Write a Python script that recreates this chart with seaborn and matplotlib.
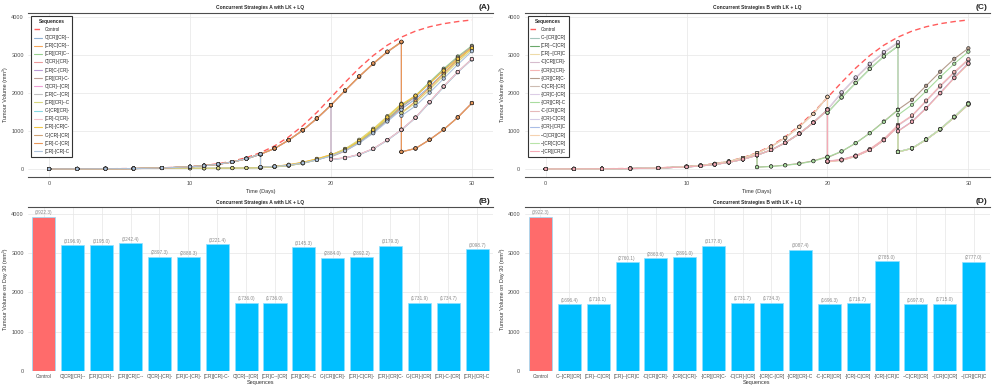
import pandas as pd
import matplotlib
matplotlib.use('Agg')
import matplotlib.pyplot as plt
import seaborn as sns

sns.set_theme(style='whitegrid')
plt.rcParams['font.family'] = ['Liberation Sans', 'DejaVu Sans']

# sampling days; a repeated day holds the value just after a dose
days = [0, 2, 4, 6, 8, 10, 11, 12, 13, 14, 15, 15, 16, 17, 18, 19, 20, 20,
        21, 22, 23, 24, 25, 25, 26, 27, 28, 29, 30]

control = [1, 3, 6, 13, 29, 64, 95, 139, 205, 299, 429, 429, 608, 844, 1140, 1490,
           1880, 1880, 2278, 2655, 2986, 3258, 3470, 3470, 3629, 3743, 3824, 3880, 3922.3]

# ---- Strategies A ----
seqs_a = ['C[CR][CR]--', '[CR]C[CR]--', '[CR][CR]C--', 'C[CR]-[CR]-', '[CR]C-[CR]-',
          '[CR][CR]-C-', 'C[CR]--[CR]', '[CR]C--[CR]', '[CR][CR]--C', 'C-[CR][CR]-',
          '[CR]-C[CR]-', '[CR]-[CR]C-', 'C-[CR]-[CR]', '[CR]-C-[CR]', '[CR]-[CR]-C']
colors_a = ['#8fb1d4', '#f5a65b', '#98d08f', '#ec9a9a', '#b99ad6', '#bf9e96', '#ee9fd6',
            '#c2c2c2', '#d8d77f', '#85d8e2', '#f6c3cc', '#f2c744', '#cfa276', '#e9975a',
            '#adc3dd']
final_a = [3196.9, 3195.0, 3242.4, 2897.3, 2888.3, 3221.4, 1736.0, 1736.0, 3145.3,
           2884.0, 2892.2, 3179.3, 1731.9, 1734.7, 3098.7]

a_up = [1, 3, 6, 12, 27, 58, 86, 125, 185, 270, 390]
a_low = [1, 3, 6, 12, 24, 20, 19, 21, 24, 28, 34]
a_up20 = [390, 540, 760, 1020, 1330, 1680]

a1 = a_up + [50, 68, 105, 165, 250, 355, 355, 505, 710, 970, 1270, 1580, 1580, 1840, 2170, 2530, 2880, 3196.9]
a2 = a_up + [52, 70, 110, 172, 262, 372, 372, 525, 735, 1000, 1310, 1610, 1480, 1780, 2140, 2510, 2870, 3195.0]
a3 = a_low + [34, 55, 90, 150, 240, 350, 350, 510, 730, 1000, 1320, 1660, 1660, 1930, 2290, 2640, 2960, 3242.4]
a4 = a_up + a_up20 + [255, 295, 385, 535, 765, 1035, 1035, 1355, 1765, 2175, 2555, 2897.3]
a5 = a_up + a_up20 + [250, 290, 380, 530, 760, 1030, 1030, 1350, 1760, 2170, 2550, 2888.3]
a6 = a_low + [34, 55, 90, 150, 240, 350, 320, 470, 690, 960, 1290, 1630, 1630, 1900, 2260, 2610, 2930, 3221.4]
a7 = a_up + a_up20 + [1680, 2060, 2430, 2770, 3080, 3340, 450, 540, 770, 1040, 1360, 1736.0]
a8 = a_up + a_up20 + [1680, 2065, 2435, 2775, 3085, 3345, 452, 542, 772, 1042, 1362, 1736.0]
a9 = a_low + [34, 56, 92, 155, 250, 360, 360, 530, 770, 1060, 1390, 1720, 1470, 1740, 2090, 2460, 2820, 3145.3]
a10 = a_up + a_up20 + [245, 285, 375, 525, 755, 1025, 1025, 1345, 1750, 2160, 2545, 2884.0]
a11 = a_up + a_up20 + [252, 292, 382, 532, 762, 1032, 1032, 1352, 1762, 2172, 2552, 2892.2]
a12 = a_up + [48, 70, 112, 178, 268, 380, 345, 500, 740, 1030, 1360, 1700, 1700, 1930, 2250, 2590, 2900, 3179.3]
a13 = a_up + a_up20 + [1680, 2055, 2425, 2765, 3075, 3335, 448, 538, 768, 1037, 1355, 1731.9]
a14 = a_up + a_up20 + [1680, 2070, 2440, 2780, 3090, 3350, 452, 542, 772, 1040, 1358, 1734.7]
a15 = a_up + [50, 66, 100, 158, 240, 340, 340, 480, 680, 940, 1250, 1560, 1400, 1660, 2010, 2380, 2750, 3098.7]
vols_a = [a1, a2, a3, a4, a5, a6, a7, a8, a9, a10, a11, a12, a13, a14, a15]

# ---- Strategies B ----
seqs_b = ['C--[CR][CR]', '[CR]--C[CR]', '[CR]--[CR]C', '-C[CR][CR]-', '-[CR]C[CR]-',
          '-[CR][CR]C-', '-C[CR]-[CR]', '-[CR]C-[CR]', '-[CR][CR]-C', '-C-[CR][CR]',
          '-[CR]-C[CR]', '-[CR]-[CR]C', '--C[CR][CR]', '--[CR]C[CR]', '--[CR][CR]C']
colors_b = ['#a3c4bb', '#6aa86a', '#eedba8', '#d6bccd', '#f5b5b5', '#b39b8b', '#cdbcb2',
            '#dccde6', '#a9dc9f', '#e6b9b9', '#d4cce6', '#a9bde6', '#f5d2b0', '#b8e4a8',
            '#f5aab6']
final_b = [1696.4, 1710.1, 2760.1, 2863.6, 2891.0, 3177.8, 1731.7, 1734.3, 3087.4,
           1696.3, 1716.7, 2785.0, 1697.8, 1715.0, 2777.0]

b_up = [1, 3, 6, 13, 28, 62, 92, 135, 198, 290, 415]
b_up20 = [415, 590, 820, 1110, 1450, 1900]
b_lag20 = [1, 3, 6, 12, 26, 55, 82, 120, 176, 255, 365, 365, 500, 690, 930, 1220, 1560]

b1 = b_up + b_up20 + [190, 230, 330, 500, 760, 1120, 450, 540, 770, 1040, 1360, 1696.4]
b2 = b_lag20 + [1480, 1880, 2260, 2630, 2960, 3230, 450, 545, 775, 1045, 1370, 1710.1]
b3 = b_lag20 + [200, 240, 340, 500, 760, 1110, 990, 1240, 1590, 1990, 2390, 2760.1]
b4 = b_lag20 + [205, 245, 345, 510, 775, 1140, 1140, 1390, 1780, 2170, 2530, 2863.6]
b5 = b_lag20 + [210, 250, 355, 525, 790, 1160, 1160, 1410, 1800, 2195, 2555, 2891.0]
b6 = b_up + [50, 70, 102, 145, 215, 325, 300, 460, 680, 945, 1250, 1560, 1560, 1820, 2190, 2560, 2900, 3177.8]
b7 = b_lag20 + [1560, 2000, 2390, 2750, 3060, 3320, 452, 545, 778, 1050, 1375, 1731.7]
b8 = b_lag20 + [1570, 2020, 2410, 2770, 3080, 3340, 455, 548, 780, 1052, 1378, 1734.3]
b9 = b_up + [48, 66, 96, 138, 205, 315, 315, 465, 680, 940, 1240, 1550, 1420, 1690, 2050, 2420, 2770, 3087.4]
b10 = b_up + b_up20 + [195, 235, 335, 505, 765, 1125, 448, 538, 768, 1038, 1358, 1696.3]
b11 = b_lag20 + [1490, 1890, 2270, 2640, 2970, 3240, 451, 546, 776, 1047, 1372, 1716.7]
b12 = b_lag20 + [198, 238, 338, 498, 758, 1115, 1000, 1250, 1605, 2005, 2410, 2785.0]
b13 = b_up + b_up20 + [188, 228, 328, 498, 758, 1118, 450, 540, 770, 1041, 1361, 1697.8]
b14 = b_lag20 + [1485, 1885, 2265, 2635, 2965, 3235, 450, 545, 775, 1046, 1371, 1715.0]
b15 = b_lag20 + [202, 242, 342, 502, 762, 1118, 995, 1245, 1598, 1998, 2400, 2777.0]
vols_b = [b1, b2, b3, b4, b5, b6, b7, b8, b9, b10, b11, b12, b13, b14, b15]

control_final = 3922.3
ctrl_color = '#ff5c5c'
bar_blue = '#00bfff'
bar_red = '#ff6b6b'


def style_axes(ax, spines):
    for side in ['left', 'right', 'top', 'bottom']:
        ax.spines[side].set_visible(side in spines)
        ax.spines[side].set_color('#4d4d4d')
        ax.spines[side].set_linewidth(0.8)
    ax.grid(True, color='#e6e6e6', linewidth=0.5)
    ax.set_axisbelow(True)
    ax.tick_params(axis='both', length=2, width=0.4, color='#4d4d4d',
                   labelcolor='#4d4d4d', labelsize=4, pad=1)


def draw_lines(ax, seqs, vols, colors, title, tag):
    rows = []
    for s, vals in zip(seqs, vols):
        for d, v in zip(days, vals):
            rows.append((s, d, v))
    df = pd.DataFrame(rows, columns=['seq', 'day', 'vol'])
    pal = dict(zip(seqs, colors))

    sns.lineplot(x=days, y=control, ax=ax, color=ctrl_color, linewidth=1.0,
                 linestyle=(0, (4, 2.5)), label='Control', estimator=None, sort=False)
    sns.lineplot(data=df, x='day', y='vol', hue='seq', hue_order=seqs, palette=pal,
                 estimator=None, sort=False, linewidth=0.8, ax=ax)
    sns.scatterplot(data=df, x='day', y='vol', hue='seq', hue_order=seqs, palette=pal,
                    s=6, edgecolor='#222222', linewidth=0.4, legend=False, ax=ax, zorder=3)

    ax.set_xlim(-1.5, 31.5)
    ax.set_ylim(-210, 4113)
    ax.set_xticks([0, 10, 20, 30])
    ax.set_yticks([0, 1000, 2000, 3000, 4000])
    style_axes(ax, ['top', 'bottom'])
    ax.set_xlabel('Time (Days)', fontsize=4, color='#333333', labelpad=2)
    ax.set_ylabel('Tumour Volume (mm³)', fontsize=4, color='#333333', labelpad=2)
    ax.set_title(title, fontsize=3.5, fontweight='bold', pad=2.5)
    ax.text(0.995, 1.012, tag, transform=ax.transAxes, ha='right', va='bottom',
            fontsize=6, fontweight='bold')

    handles, labels = ax.get_legend_handles_labels()
    keep = [(h, l) for h, l in zip(handles, labels) if l == 'Control' or l in seqs]
    leg = ax.legend([h for h, _ in keep], [l for _, l in keep], title='Sequences',
                    loc='upper left', bbox_to_anchor=(0.002, 0.993), fontsize=3.3,
                    title_fontsize=3.5, frameon=True, fancybox=False,
                    edgecolor='#333333', framealpha=1, handlelength=1.8,
                    labelspacing=0.68, borderpad=0.6, handletextpad=0.5)
    leg.get_title().set_fontweight('bold')
    leg.get_frame().set_linewidth(0.8)


def draw_bars(ax, seqs, finals, title, tag):
    labels = ['Control'] + seqs
    vals = [control_final] + finals
    cols = [bar_red] + [bar_blue] * len(seqs)
    sns.barplot(x=labels, y=vals, hue=labels, palette=cols, legend=False, width=0.8,
                saturation=1, edgecolor='#8fe0ff', linewidth=0.5, ax=ax)
    for i, v in enumerate(vals):
        ax.text(i, v + 40, f'({v:.1f})', ha='center', va='bottom', fontsize=3.4,
                color='#8c8c8c')
    ax.set_xlim(-0.55, len(labels) - 0.45)
    ax.set_ylim(0, 4170)
    ax.set_yticks([0, 1000, 2000, 3000, 4000])
    style_axes(ax, ['top'])
    ax.tick_params(axis='x', labelsize=3.5, length=0, pad=2)
    ax.set_xlabel('Sequences', fontsize=4, color='#333333', labelpad=1)
    ax.set_ylabel('Tumour Volume on Day 30 (mm³)', fontsize=4, color='#333333', labelpad=2)
    ax.set_title(title, fontsize=3.5, fontweight='bold', pad=2.5)
    ax.text(0.995, 1.012, tag, transform=ax.transAxes, ha='right', va='bottom',
            fontsize=6, fontweight='bold')


fig = plt.figure(figsize=(9.97, 3.92), dpi=100)
ax_a = fig.add_axes([0.0281, 0.5485, 0.4664, 0.4191])
ax_c = fig.add_axes([0.5261, 0.5485, 0.4664, 0.4191])
ax_b = fig.add_axes([0.0281, 0.0536, 0.4664, 0.4184])
ax_d = fig.add_axes([0.5261, 0.0536, 0.4664, 0.4184])

draw_lines(ax_a, seqs_a, vols_a, colors_a, 'Concurrent Strategies A with LK + LQ', '(A)')
draw_lines(ax_c, seqs_b, vols_b, colors_b, 'Concurrent Strategies B with LK + LQ', '(C)')
draw_bars(ax_b, seqs_a, final_a, 'Concurrent Strategies A with LK + LQ', '(B)')
draw_bars(ax_d, seqs_b, final_b, 'Concurrent Strategies B with LK + LQ', '(D)')

fig.savefig('out.png', dpi=100)
